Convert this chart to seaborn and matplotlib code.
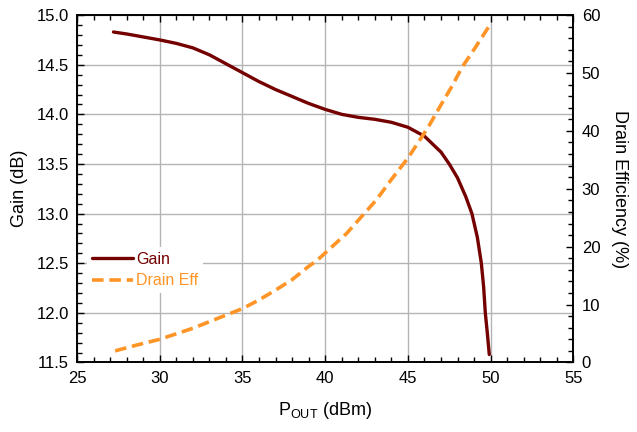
import numpy as np
import pandas as pd
import matplotlib
matplotlib.use("Agg")
import matplotlib.pyplot as plt
import seaborn as sns
from matplotlib.ticker import MultipleLocator, FormatStrFormatter

# ===== data =====
gain_pout = [27.2, 28.0, 29.0, 30.0, 31.0, 32.0, 33.0, 34.0, 35.0, 36.0, 37.0, 38.0,
             39.0, 40.0, 41.0, 42.0, 43.0, 44.0, 45.0, 46.0, 47.0, 47.5, 48.0, 48.5,
             48.87, 49.2, 49.44, 49.58, 49.68, 49.8, 49.92]
gain_db = [14.83, 14.81, 14.78, 14.75, 14.715, 14.67, 14.60, 14.51, 14.42, 14.33, 14.25, 14.18,
           14.11, 14.05, 14.00, 13.97, 13.95, 13.92, 13.87, 13.78, 13.62, 13.50, 13.36, 13.17,
           13.00, 12.76, 12.50, 12.26, 12.00, 11.80, 11.58]

eff_pout = [27.3, 28.6, 30.0, 32.0, 33.4, 35.0, 36.0, 37.0, 38.0, 39.0, 39.5, 40.3,
            41.3, 42.2, 43.1, 44.0, 45.0, 45.6, 46.3, 47.0, 47.6, 48.3, 49.1, 50.0]
eff_pct = [2.0, 3.0, 4.0, 5.9, 7.5, 9.3, 10.8, 12.5, 14.3, 16.6, 17.6, 19.7,
           22.3, 25.2, 28.1, 31.6, 35.3, 37.9, 41.0, 44.5, 47.4, 51.1, 54.5, 58.5]

df_gain = pd.DataFrame({"pout": gain_pout, "gain": gain_db})
df_eff = pd.DataFrame({"pout": eff_pout, "eff": eff_pct})

sns.set_theme(style="ticks")
plt.rcParams["font.family"] = ["Liberation Sans", "DejaVu Sans"]
plt.rcParams["text.color"] = "black"
plt.rcParams["axes.labelcolor"] = "black"
plt.rcParams["xtick.color"] = "black"
plt.rcParams["ytick.color"] = "black"

gain_color = "#740000"
eff_color = "#FF9427"

fig = plt.figure(figsize=(6.37, 4.32), dpi=100)
ax = fig.add_axes([0.121, 0.161, 0.779, 0.804])
ax2 = ax.twinx()

sns.lineplot(data=df_gain, x="pout", y="gain", ax=ax, color=gain_color, lw=2.4,
             label="Gain", legend=False)
sns.lineplot(data=df_eff, x="pout", y="eff", ax=ax2, color=eff_color, lw=2.6,
             label="Drain Eff", legend=False)
ax2.lines[0].set_dashes((3.2, 1.6))
for ln in ax.lines + ax2.lines:
    ln.set_solid_joinstyle("round")
    ln.set_dash_joinstyle("round")

ax.set_xlim(25, 55)
ax.set_ylim(11.5, 15.0)
ax2.set_ylim(0, 60)

ax.xaxis.set_major_locator(MultipleLocator(5))
ax.xaxis.set_minor_locator(MultipleLocator(1))
ax.yaxis.set_major_locator(MultipleLocator(0.5))
ax.yaxis.set_minor_locator(MultipleLocator(0.1))
ax2.yaxis.set_major_locator(MultipleLocator(10))
ax2.yaxis.set_minor_locator(MultipleLocator(2))
ax.yaxis.set_major_formatter(FormatStrFormatter("%.1f"))

ax.grid(True, which="major", color="#b4b4b4", lw=1.0)
ax.set_axisbelow(True)

for a in (ax, ax2):
    a.tick_params(which="both", direction="in", labelsize=12, width=1.0,
                  color="black", labelcolor="black")
    a.tick_params(which="major", length=5, pad=6)
    a.tick_params(which="minor", length=3.5)
    for s in a.spines.values():
        s.set_color("black")
        s.set_linewidth(1.2)
ax.tick_params(axis="x", which="both", top=True)

ax.set_xlabel("P$_{\\mathregular{OUT}}$ (dBm)", fontsize=13, labelpad=10)
ax.set_ylabel("Gain (dB)", fontsize=13, labelpad=6)
ax2.set_ylabel("Drain Efficiency (%)", fontsize=13, rotation=270, labelpad=20)

handles = ax.lines[:1] + ax2.lines[:1]
leg = ax.legend(handles, ["Gain", "Drain Eff"], loc="center left",
                bbox_to_anchor=(0.01, 0.266), frameon=True, fontsize=11.5,
                labelcolor="linecolor", handlelength=2.6, handletextpad=0.2,
                borderpad=0.3, labelspacing=0.4, borderaxespad=0.3)
leg.get_frame().set_facecolor("white")
leg.get_frame().set_edgecolor("none")
leg.get_frame().set_alpha(1.0)
leg.set_zorder(5)

fig.savefig("out.png", dpi=100)
